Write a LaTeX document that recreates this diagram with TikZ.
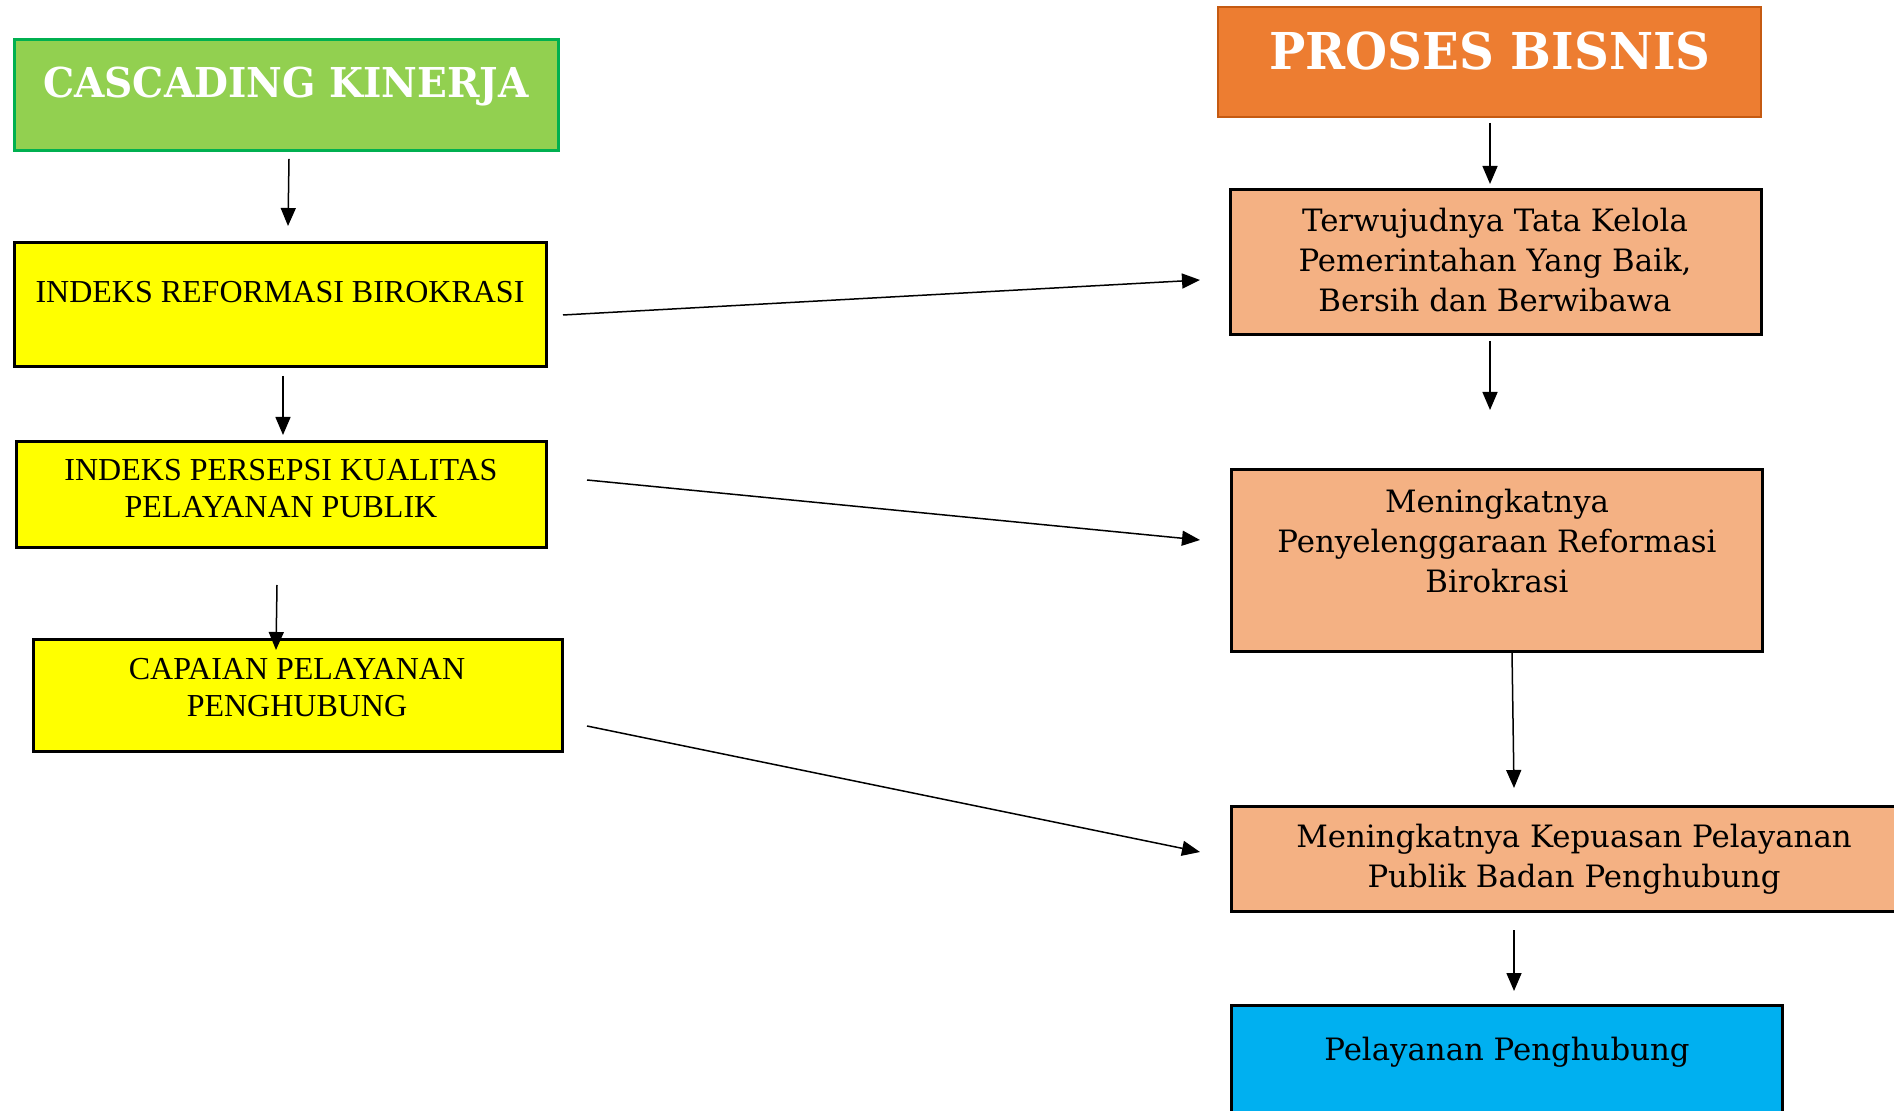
\documentclass[tikz,border=0pt]{standalone}
\usepackage{fontspec}
\setmainfont{DejaVu Serif}
\newfontfamily\ytimes{Liberation Serif}
\usetikzlibrary{arrows.meta}
\definecolor{cgreen}{HTML}{92D050}
\definecolor{cgreenb}{HTML}{00B050}
\definecolor{corange}{HTML}{ED7D31}
\definecolor{corangeb}{HTML}{C55A11}
\definecolor{clight}{HTML}{F4B183}
\definecolor{cyel}{HTML}{FFFF00}
\definecolor{cblue}{HTML}{00B0F0}
\tikzset{
  boxr/.style={draw=black, line width=1.5pt, inner sep=0pt},
  ytext/.style={font=\ytimes\fontsize{16}{18.5}\selectfont, align=center, inner sep=0pt, anchor=base},
  otext/.style={font=\fontsize{15.4}{20}\selectfont, align=center, inner sep=0pt, anchor=base},
  arr/.style={line width=0.75pt, -{Triangle[length=9pt,width=7.5pt]}},
}
\begin{document}
\begin{tikzpicture}[x=0.5pt,y=-0.5pt]
\useasboundingbox (0,0) rectangle (1894,1111);
\clip (0,0) rectangle (1894,1111);
% left column
\path[fill=cgreen, draw=cgreenb, line width=1.5pt] (14.5,40) rectangle (558,151);
\node[inner sep=0pt] (green) at (286,95.5) {};
\node[anchor=base, inner sep=0pt, text=white, font=\bfseries\fontsize{20.6}{24}\selectfont] (greent) at (286,98) {\scalebox{0.95}[1]{CASCADING KINERJA}};

\path[boxr, fill=cyel] (14.5,243) rectangle (546,367);
\node (y1) at (280,305) {};
\node[ytext] (y1t) at (280,303) {INDEKS REFORMASI BIROKRASI};

\path[boxr, fill=cyel] (16,442) rectangle (546,548);
\node (y2) at (281,495) {};
\node[ytext] (y2t) at (281,518) {INDEKS PERSEPSI KUALITAS\\PELAYANAN PUBLIK};

\path[boxr, fill=cyel] (33,640) rectangle (562,751);
\node (y3) at (297,695) {};
\node[ytext] (y3t) at (297,716) {CAPAIAN PELAYANAN\\PENGHUBUNG};

% right column
\path[fill=corange, draw=corangeb, line width=1pt] (1218,7) rectangle (1761,117);
\node (hdr) at (1490,62) {};
\node[anchor=base, inner sep=0pt, text=white, font=\bfseries\fontsize{25.4}{30}\selectfont] (hdrt) at (1490,70) {\scalebox{0.95}[1]{PROSES BISNIS}};

\path[boxr, fill=clight] (1230,190) rectangle (1761,335);
\node (r1) at (1495,262) {};
\node[otext] (r1t) at (1495,312) {Terwujudnya Tata Kelola\\Pemerintahan Yang Baik,\\Bersih dan Berwibawa};

\path[boxr, fill=clight] (1231,470) rectangle (1762,652);
\node (r2) at (1496,561) {};
\node[otext] (r2t) at (1497,593) {Meningkatnya\\Penyelenggaraan Reformasi\\Birokrasi};

\path[boxr, fill=clight] (1231,806) rectangle (1920,911);
\node (r3) at (1575,858) {};
\node[otext] (r3t) at (1574,887) {Meningkatnya Kepuasan Pelayanan\\Publik Badan Penghubung};

\path[boxr, fill=cblue] (1231,1005) rectangle (1782,1130);
\node (bl) at (1506,1065) {};
\node[otext] (blt) at (1507,1060) {Pelayanan Penghubung};

% arrows
\coordinate (a1s) at (289,159); \coordinate (a1e) at (288,226);
\coordinate (a2s) at (283,376); \coordinate (a2e) at (283,435);
\coordinate (a3s) at (277,585); \coordinate (a3e) at (276,650);
\coordinate (b1s) at (563,315); \coordinate (b1e) at (1200,280);
\coordinate (b2s) at (587,480); \coordinate (b2e) at (1200,540);
\coordinate (b3s) at (587,726); \coordinate (b3e) at (1200,852);
\coordinate (c1s) at (1490,123); \coordinate (c1e) at (1490,184);
\coordinate (c2s) at (1490,341); \coordinate (c2e) at (1490,410);
\coordinate (c3s) at (1512,652); \coordinate (c3e) at (1514,788);
\coordinate (c4s) at (1514,930); \coordinate (c4e) at (1514,991);
\foreach \a in {a1,a2,a3,b1,b2,b3,c1,c2,c3,c4} {\draw[arr] (\a s) -- (\a e);}
\end{tikzpicture}
\end{document}
